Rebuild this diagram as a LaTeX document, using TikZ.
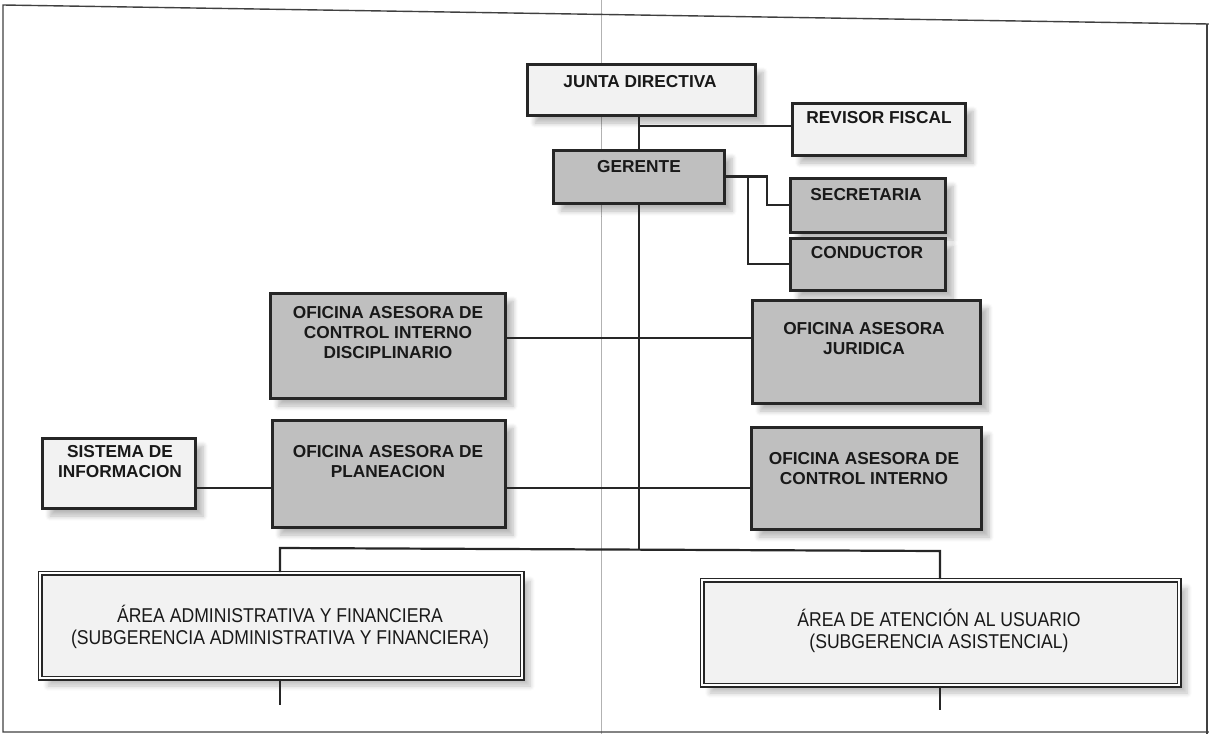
\documentclass[tikz,border=0pt]{standalone}
\usepackage{fontspec}
\setmainfont{Liberation Sans}
\newfontfamily\narrowfont[FakeStretch=0.88]{Liberation Sans}
\usetikzlibrary{shadows.blur}
\tikzset{
  x=1pt, y=-1pt,
  frameline/.style={draw=black!75, line width=1.4pt},
  foldline/.style={draw=black!30, line width=0.7pt},
  conn/.style={draw=black!85, line width=2.2pt},
  boxbase/.style={draw=black!85, line width=3pt, inner sep=0pt,
    blur shadow={shadow xshift=8pt, shadow yshift=-8pt, shadow blur steps=6,
      shadow blur radius=5pt, shadow opacity=28}},
  whitebox/.style={boxbase, fill=black!5},
  graybox/.style={boxbase, fill=black!25},
  bigbox/.style={draw=black!85, line width=1.7pt, double=white, double distance=1.6pt,
    inner sep=0pt, fill=black!5,
    blur shadow={shadow xshift=8pt, shadow yshift=-8pt, shadow blur steps=6,
      shadow blur radius=5pt, shadow opacity=25}},
  lbl/.style={font=\bfseries\fontsize{17.3}{20}\selectfont, align=center, inner sep=0pt, text=black!90},
  biglbl/.style={font=\narrowfont\fontsize{20}{22}\selectfont, align=center, inner sep=0pt, text=black!90},
}
\begin{document}
\begin{tikzpicture}
\useasboundingbox (0,0) rectangle (1209,734);
% page frame and scan fold
\draw[foldline] (601,0) -- (601,734);
\draw[frameline] (1209,24) -- (3,5) -- (3,732) -- (1209,732);
\draw[frameline] (1207,24) -- (1207,734);

% boxes
\node[whitebox, minimum width=228pt, minimum height=51pt] (jd)  at (641,89.5) {};
\node[whitebox, minimum width=173pt, minimum height=52pt] (rev) at (878.5,129) {};
\node[graybox,  minimum width=171pt, minimum height=53pt] (ger) at (638.5,176.5) {};
\node[graybox,  minimum width=155pt, minimum height=54pt] (sec) at (867.5,205) {};
\node[graybox,  minimum width=155pt, minimum height=52pt] (con) at (867.5,264) {};
\node[graybox,  minimum width=235pt, minimum height=105pt] (ocid) at (387.5,345.5) {};
\node[graybox,  minimum width=228pt, minimum height=103pt] (jur)  at (866,351.5) {};
\node[whitebox, minimum width=153pt, minimum height=70pt]  (si)   at (118.5,473) {};
\node[graybox,  minimum width=233pt, minimum height=107pt] (plan) at (388.5,473.5) {};
\node[graybox,  minimum width=230pt, minimum height=102pt] (ci)   at (866,478) {};
\node[bigbox,   minimum width=482pt, minimum height=105pt] (aaf)  at (281,625.5) {};
\node[bigbox,   minimum width=477pt, minimum height=105pt] (aau)  at (940.5,632.5) {};

% labels
\node[lbl] (jdt)  at (640,82) {JUNTA DIRECTIVA};
\node[lbl] (revt) at (879,118) {REVISOR FISCAL};
\node[lbl] (gert) at (639,167) {GERENTE};
\node[lbl] (sect) at (866,195) {SECRETARIA};
\node[lbl] (cont) at (867,253) {CONDUCTOR};
\node[lbl] (ocidt) at (388,333) {OFICINA ASESORA DE\\CONTROL INTERNO\\DISCIPLINARIO};
\node[lbl] (jurt) at (864,339) {OFICINA ASESORA\\JURIDICA};
\node[lbl] (sit)  at (120,462) {SISTEMA DE\\INFORMACION};
\node[lbl] (plant) at (388,462) {OFICINA ASESORA DE\\PLANEACION};
\node[lbl] (cit)  at (864,469) {OFICINA ASESORA DE\\CONTROL INTERNO};
\node[biglbl] (aaft) at (280,627) {ÁREA ADMINISTRATIVA Y FINANCIERA\\(SUBGERENCIA ADMINISTRATIVA Y FINANCIERA)};
\node[biglbl] (aaut) at (939,631) {ÁREA DE ATENCIÓN AL USUARIO\\(SUBGERENCIA ASISTENCIAL)};

% helper coordinates
\coordinate (tx) at (639,0);
\coordinate (ry) at (0,126);
\coordinate (b1) at (767,0);
\coordinate (b2) at (748,0);
\coordinate (l1) at (0,338);
\coordinate (l2) at (0,488);
\coordinate (busL) at (280,548);
\coordinate (busR) at (940,551);
\coordinate (busM) at (639,549.5);
\coordinate (endL) at (280,705);
\coordinate (endR) at (940,710);

% connectors
\draw[conn] (jd.south -| tx) -- (ger.north -| tx);
\draw[conn] (tx |- ry) -- (rev.west |- ry);
\draw[conn] (ger.south -| tx) -- (busM);
\draw[conn] (ger.east) -- (ger.east -| b1) |- (sec.west);
\draw[conn] (ger.east -| b2) |- (con.west);
\draw[conn] (ocid.east |- l1) -- (jur.west |- l1);
\draw[conn] (si.east |- l2) -- (plan.west |- l2);
\draw[conn] (plan.east |- l2) -- (ci.west |- l2);
\draw[conn] (aaf.north -| busL) -- (busL) -- (busR) -- (aau.north -| busR);
\draw[conn] (aaf.south -| endL) -- (endL);
\draw[conn] (aau.south -| endR) -- (endR);
\end{tikzpicture}
\end{document}
